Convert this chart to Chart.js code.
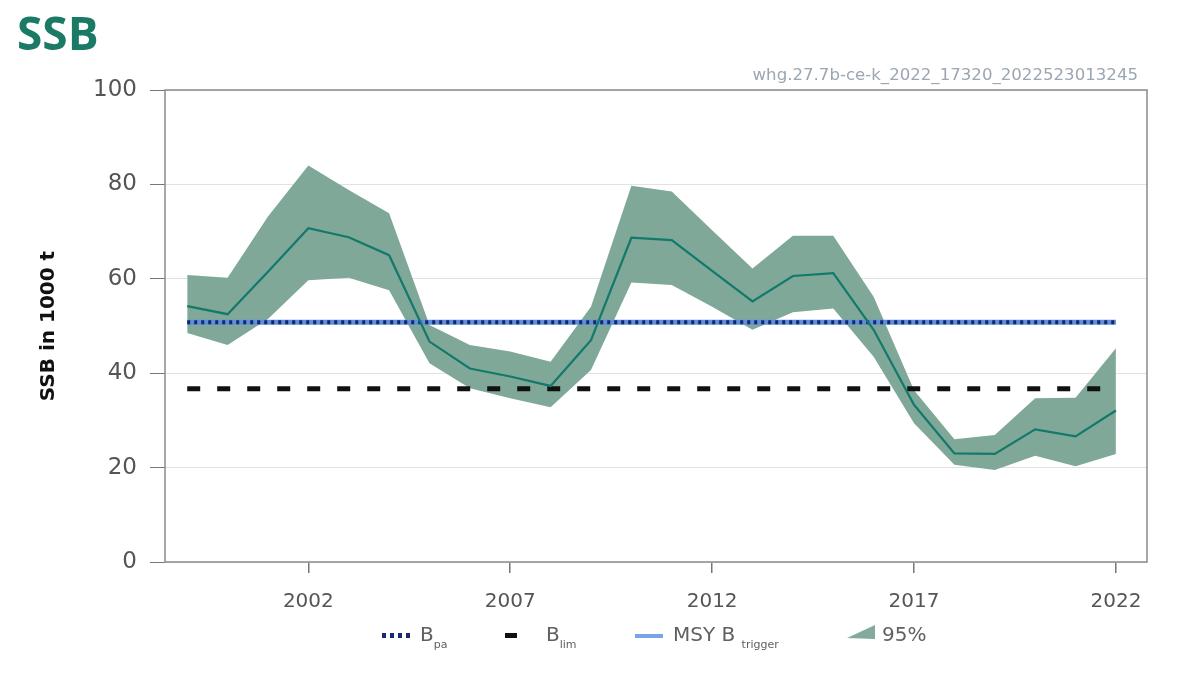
<!DOCTYPE html>
<html>
<head>
<meta charset="utf-8">
<script src="https://cdn.jsdelivr.net/npm/chart.js@4/dist/chart.umd.min.js"></script>
<style>
  html, body { margin: 0; padding: 0; background: #fff; }
  #wrap { position: relative; width: 1200px; height: 675px; }
  #titulo { position: absolute; left: 17px; top: 1px; font: bold 46px "Open Sans", sans-serif; color: #1b7a66; }
  #codigo { position: absolute; right: 62px; top: 65px; font: 16.6px "DejaVu Sans", sans-serif; color: #9ba6b2; }
  #leyenda { position: absolute; top: 622px; left: 0; width: 1200px; height: 28px; font: 20px "DejaVu Sans", sans-serif; color: #606060; }
  #leyenda span { position: absolute; top: 0; white-space: nowrap; }
  #leyenda sub { font-size: 11px; vertical-align: -7px; }
  #leyenda svg { position: absolute; }
</style>
</head>
<body>
<div id="wrap">
  <canvas id="graficoSSB"></canvas>
  <div id="titulo">SSB</div>
  <div id="codigo">whg.27.7b-ce-k_2022_17320_2022523013245</div>
  <div id="leyenda">
    <svg style="left:382px;top:9px" width="32" height="10"><g fill="#1a2a6c"><rect x="0" y="2" width="4" height="5"/><rect x="8" y="2" width="4" height="5"/><rect x="16" y="2" width="4" height="5"/><rect x="24" y="2" width="4" height="5"/></g></svg>
    <span style="left:420px">B<sub>pa</sub></span>
    <svg style="left:505px;top:9px" width="14" height="10"><rect x="0" y="2" width="12" height="5" fill="#111"/></svg>
    <span style="left:546px">B<sub>lim</sub></span>
    <svg style="left:635px;top:9px" width="30" height="10"><rect x="0" y="3" width="28" height="4" fill="#7aa3e5"/></svg>
    <span style="left:673px">MSY B <sub>trigger</sub></span>
    <svg style="left:847px;top:1px" width="30" height="20"><polygon points="0,15 28,2 28,16" fill="#82ab9c"/></svg>
    <span style="left:882px">95%</span>
  </div>
</div>
<script>
// Serie SSB (miles de t)
const anios = [1999, 2000, 2001, 2002, 2003, 2004, 2005, 2006, 2007, 2008, 2009, 2010,
               2011, 2012, 2013, 2014, 2015, 2016, 2017, 2018, 2019, 2020, 2021, 2022];
const ssb = [54.2, 52.5, 61.5, 70.7, 68.8, 65.0, 46.7, 41.0, 39.3, 37.3, 47.0, 68.7,
             68.2, 61.7, 55.2, 60.6, 61.2, 49.2, 33.3, 23.0, 22.9, 28.1, 26.6, 32.1];
const ssbAlto = [60.8, 60.2, 73.2, 84.0, 78.8, 73.9, 50.2, 46.0, 44.6, 42.4, 54.1, 79.7,
                 78.5, 70.3, 62.2, 69.1, 69.1, 56.2, 36.4, 26.0, 26.9, 34.7, 34.8, 45.3];
const ssbBajo = [48.5, 46.0, 51.5, 59.7, 60.2, 57.6, 42.1, 36.8, 34.7, 32.8, 40.7, 59.2,
                 58.7, 54.1, 49.2, 52.9, 53.7, 43.5, 29.4, 20.6, 19.5, 22.5, 20.3, 22.9];
const bpa = 50.8;
const msyBtrigger = 50.8;
const blim = 36.7;
const ticksX = [2002, 2007, 2012, 2017, 2022];
const ticksY = [0, 20, 40, 60, 80, 100];

const puntos = (vals) => anios.map((a, i) => ({ x: a, y: vals[i] }));
const constante = (v) => [{ x: anios[0], y: v }, { x: anios[anios.length - 1], y: v }];

// marco del área del gráfico
const marco = {
    id: 'marco',
    afterDraw(chart) {
        const { ctx, chartArea: a } = chart;
        ctx.save();
        ctx.strokeStyle = '#8a8a8a';
        ctx.lineWidth = 1.5;
        ctx.strokeRect(a.left, a.top, a.right - a.left, a.bottom - a.top);
        ctx.restore();
    }
};

const ctxSSB = document.getElementById('graficoSSB').getContext('2d');
new Chart(ctxSSB, {
    type: 'line',
    data: {
        datasets: [
            {
                label: '95% alto',
                data: puntos(ssbAlto),
                borderWidth: 0,
                pointRadius: 0,
                backgroundColor: 'rgb(127, 168, 152)',
                fill: '+1',
                tension: 0,
                order: 10
            },
            {
                label: '95% bajo',
                data: puntos(ssbBajo),
                borderWidth: 0,
                pointRadius: 0,
                fill: false,
                order: 9
            },
            {
                label: 'MSY Btrigger',
                data: constante(msyBtrigger),
                borderColor: '#5d8ee0',
                borderWidth: 5,
                pointRadius: 0,
                fill: false,
                order: 5
            },
            {
                label: 'Bpa',
                data: constante(bpa),
                borderColor: '#16286a',
                borderWidth: 4,
                borderDash: [3, 4],
                pointRadius: 0,
                fill: false,
                order: 4
            },
            {
                label: 'Blim',
                data: constante(blim),
                borderColor: '#111111',
                borderWidth: 5,
                borderDash: [13, 17],
                pointRadius: 0,
                fill: false,
                order: 3
            },
            {
                label: 'SSB',
                data: puntos(ssb),
                borderColor: '#13796a',
                borderWidth: 2.2,
                pointRadius: 0,
                fill: false,
                tension: 0,
                order: 1
            }
        ]
    },
    options: {
        responsive: true,
        maintainAspectRatio: false,
        animation: false,
        layout: { padding: { top: 90, right: 53, bottom: 0, left: 0 } },
        plugins: {
            legend: { display: false },
            tooltip: { enabled: false }
        },
        scales: {
            x: {
                type: 'linear',
                min: 1998.45,
                max: 2022.77,
                afterFit(scale) { scale.height = 113; },
                afterBuildTicks(scale) { scale.ticks = ticksX.map(v => ({ value: v })); },
                grid: { drawOnChartArea: false, drawTicks: true, tickLength: 11, tickColor: '#777', lineWidth: 1.5 },
                border: { display: false },
                ticks: {
                    padding: 17,
                    color: '#555',
                    font: { family: 'DejaVu Sans', size: 20 },
                    callback: (v) => String(v)
                }
            },
            y: {
                min: 0,
                max: 100,
                afterFit(scale) { scale.width = 165; },
                afterBuildTicks(scale) { scale.ticks = ticksY.map(v => ({ value: v })); },
                grid: { color: '#e2e2e2', lineWidth: 1, tickLength: 15, tickColor: '#777' },
                border: { display: false },
                ticks: {
                    padding: 13,
                    color: '#555',
                    font: { family: 'DejaVu Sans', size: 23 }
                },
                title: {
                    display: true,
                    text: 'SSB in 1000 t',
                    color: '#111',
                    font: { family: 'DejaVu Sans', size: 20, weight: 'bold' },
                    padding: { top: 37 }
                }
            }
        }
    },
    plugins: [marco]
});
</script>
</body>
</html>
